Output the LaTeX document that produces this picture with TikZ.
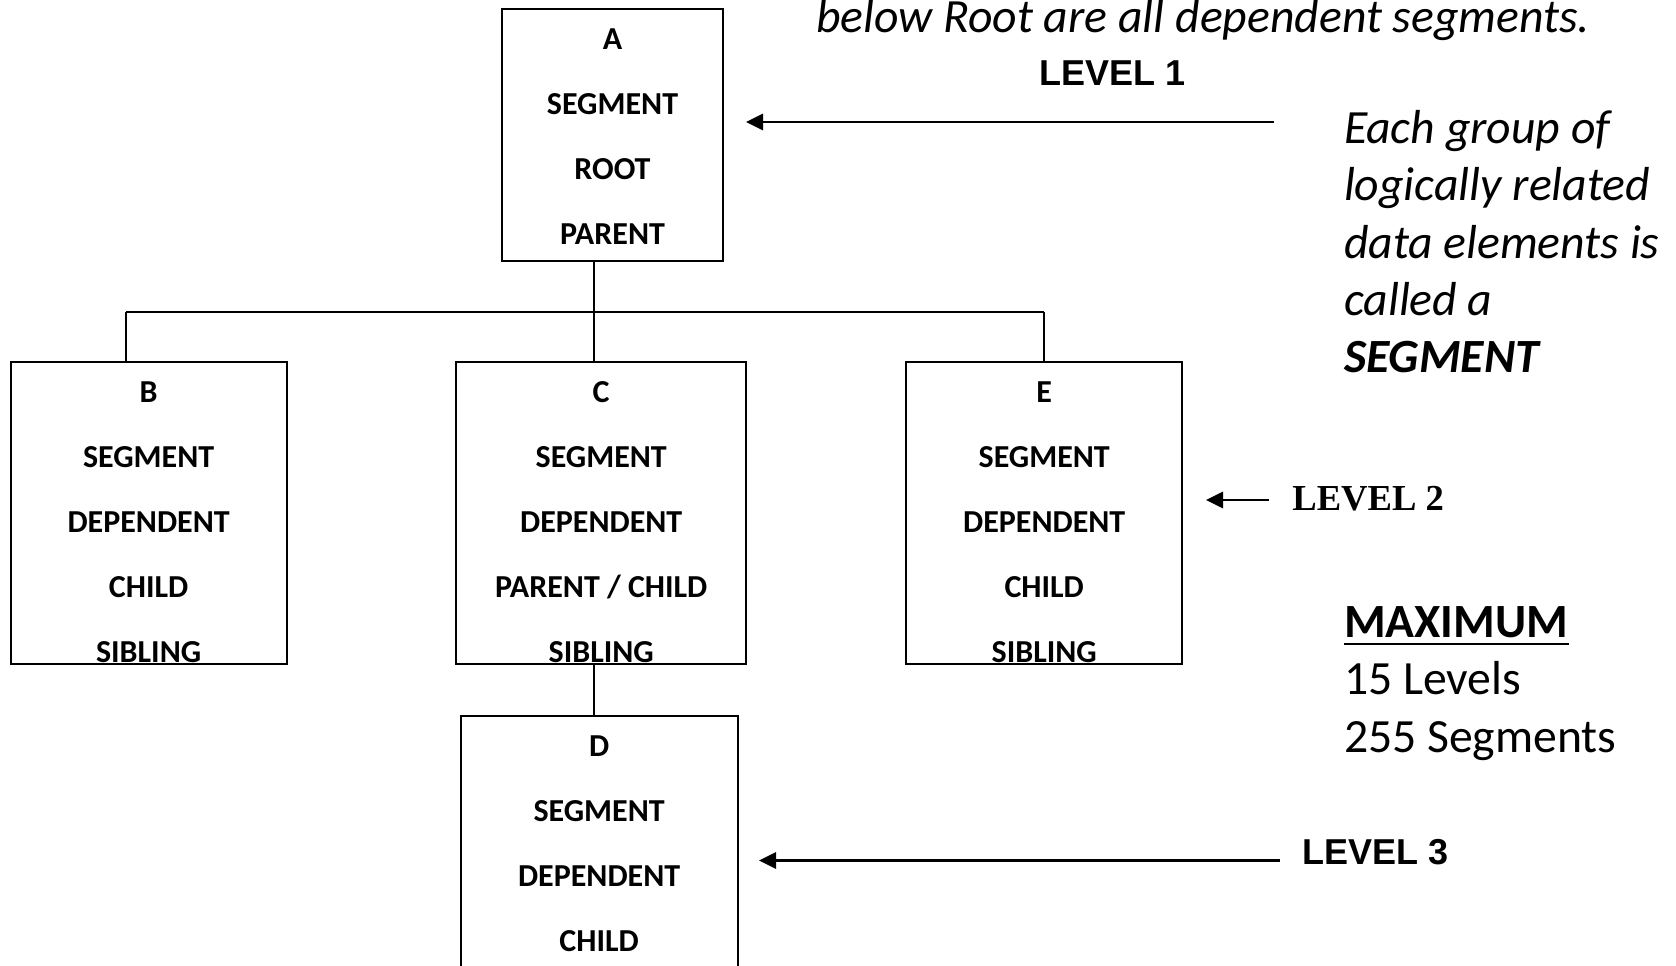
\documentclass[tikz,border=0pt]{standalone}
\usepackage{fontspec}
\setmainfont{Carlito}
\newfontfamily\arialfont{Liberation Sans}
\newfontfamily\timesfont{Liberation Serif}
\usetikzlibrary{calc,arrows.meta}
\begin{document}
\begin{tikzpicture}[x=0.5pt,y=-0.5pt,
  segframe/.style={draw,line width=1pt,inner sep=0pt,minimum height=151pt},
  segline/.style={anchor=base,inner sep=0pt,font=\bfseries\fontsize{16}{19}\selectfont},
  wire/.style={line width=1pt},
  pointer/.style={line width=1.4pt,-{Triangle[length=8.5pt,width=8pt]}},
  note/.style={anchor=base west,inner sep=0pt,font=\itshape\fontsize{23.85}{28}\selectfont},
  plain/.style={anchor=base west,inner sep=0pt,font=\fontsize{23.85}{28}\selectfont},
  levelarial/.style={anchor=base,inner sep=0pt,font=\arialfont\bfseries\fontsize{18}{21}\selectfont},
  leveltimes/.style={anchor=base west,inner sep=0pt,font=\timesfont\bfseries\fontsize{18.3}{21}\selectfont}]
\useasboundingbox (0,0) rectangle (1676,965);
\clip (0,0) rectangle (1676,965);

% segment boxes
\node[segframe,minimum width=110.5pt,minimum height=126.25pt] (A) at (612.5,134.75) {};
\node[segframe,minimum width=137.9pt] (B) at (148.6,513) {};
\node[segframe,minimum width=144.8pt] (C) at (601.2,513) {};
\node[segframe,minimum width=137.8pt] (E) at (1044.2,513) {};
\node[segframe,minimum width=138.4pt] (D) at (599.1,867) {};

% text lines inside the boxes
\foreach \t [count=\i] in {A,SEGMENT,ROOT,PARENT}
  \node[segline] (A-\i) at ($(A.north)+(0,{41.5+65*(\i-1)})$) {\t};
\foreach \t [count=\i] in {B,SEGMENT,DEPENDENT,CHILD,SIBLING}
  \node[segline] (B-\i) at ($(B.north)+(0,{41.5+65*(\i-1)})$) {\t};
\foreach \t [count=\i] in {C,SEGMENT,DEPENDENT,PARENT / CHILD,SIBLING}
  \node[segline] (C-\i) at ($(C.north)+(0,{41.5+65*(\i-1)})$) {\t};
\foreach \t [count=\i] in {E,SEGMENT,DEPENDENT,CHILD,SIBLING}
  \node[segline] (E-\i) at ($(E.north)+(0,{41.5+65*(\i-1)})$) {\t};
\foreach \t [count=\i] in {D,SEGMENT,DEPENDENT,CHILD}
  \node[segline] (D-\i) at ($(D.north)+(0,{41.5+65*(\i-1)})$) {\t};

% tree connectors
\coordinate (busL) at (126,312);
\coordinate (busM) at (594,312);
\coordinate (busR) at (1044.2,312);
\draw[wire] (A.south -| busM) -- (busM);
\draw[wire] (busL) -- (busR);
\draw[wire] (busL) -- (B.north -| busL);
\draw[wire] (busM) -- (C.north -| busM);
\draw[wire] (busR) -- (E.north);
\draw[wire] (C.south -| busM) -- (D.north -| busM);

% level pointers
\coordinate (l1from) at (1274,122);
\coordinate (l1to) at (746,122);
\draw[pointer] (l1from) -- (l1to);
\coordinate (l2from) at (1269,500);
\coordinate (l2to) at (1206,500);
\draw[pointer] (l2from) -- (l2to);
\coordinate (l3from) at (1279.5,860.5);
\coordinate (l3to) at (759,860.5);
\draw[pointer] (l3from) -- (l3to);

\node[levelarial] (lev1) at (1112.7,85.6) {LEVEL 1};
\node[leveltimes] (lev2) at (1292,510) {LEVEL 2};
\node[levelarial,anchor=base west] (lev3) at (1302,864) {LEVEL 3};

% notes
\node[note] (top) at (815.6,32.5) {below Root are all dependent segments.};
\node[note] (n1) at (1343.6,143.2) {Each group of};
\node[note] (n2) at (1343.6,200.6) {logically related};
\node[note] (n3) at (1343.6,258.0) {data elements is};
\node[note] (n4) at (1343.6,315.4) {called a};
\node[note,font=\bfseries\itshape\fontsize{23.85}{28}\selectfont] (n5) at (1343.6,372.8) {SEGMENT};

\node[plain,font=\bfseries\fontsize{23.85}{28}\selectfont] (maxi) at (1343.6,637) {MAXIMUM};
\draw[line width=1.3pt] ($(maxi.base west)+(0,7)$) -- ($(maxi.base east)+(0,7)$);
\node[plain] (lv) at (1343.6,694.8) {15 Levels};
\node[plain] (sg) at (1343.6,752.5) {255 Segments};
\end{tikzpicture}
\end{document}
